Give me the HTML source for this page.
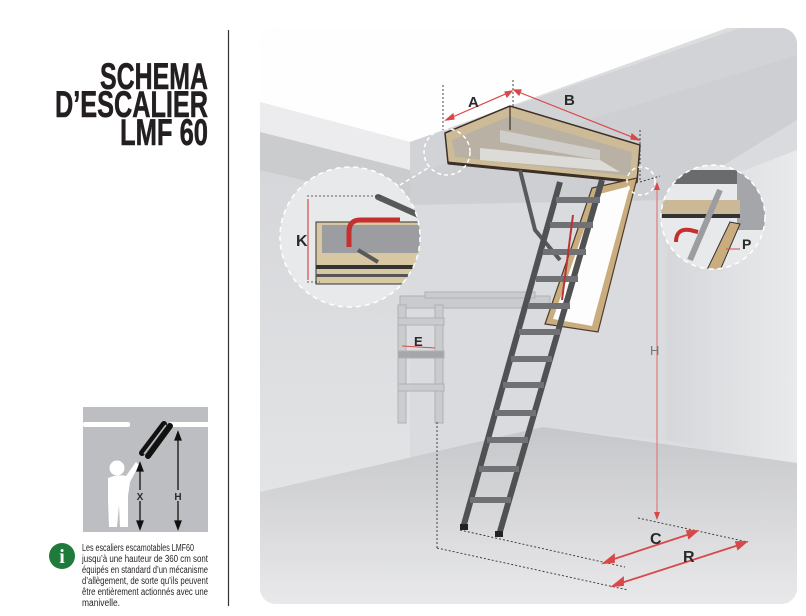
<!DOCTYPE html>
<html><head><meta charset="utf-8"><style>
html,body{margin:0;padding:0;background:#fff;width:806px;height:616px;overflow:hidden}
svg{display:block}
.t{font-family:"Liberation Sans Narrow","Liberation Sans",sans-serif;font-weight:bold;fill:#231f20;stroke:#231f20;stroke-width:0.6}
.s{font-family:"Liberation Sans Narrow","Liberation Sans",sans-serif;fill:#231f20;font-size:10px}
.lb{font-family:"Liberation Sans Narrow","Liberation Sans",sans-serif;font-weight:bold;fill:#2a2a2a}
</style></head><body>
<svg width="806" height="616" viewBox="0 0 806 616" xmlns="http://www.w3.org/2000/svg">
<defs>
<linearGradient id="lw" x1="0" y1="0" x2="0" y2="1"><stop offset="0" stop-color="#d3d4d7"/><stop offset="1" stop-color="#e3e4e6"/></linearGradient>
<linearGradient id="fl" x1="0" y1="0" x2="0" y2="1"><stop offset="0" stop-color="#c6c7ca"/><stop offset="1" stop-color="#e9e9eb"/></linearGradient>
<linearGradient id="rw" x1="0" y1="0" x2="1" y2="0"><stop offset="0" stop-color="#d6d7da"/><stop offset="1" stop-color="#e9eaec"/></linearGradient>
<clipPath id="pc"><rect x="260" y="28" width="537" height="576" rx="16"/></clipPath>
<clipPath id="kc"><circle cx="350" cy="237" r="70"/></clipPath>
<clipPath id="pcc"><circle cx="713" cy="217" r="52"/></clipPath>
</defs>
<text class="t" x="208" y="89" font-size="37" text-anchor="end" textLength="108" lengthAdjust="spacingAndGlyphs">SCHEMA</text>
<text class="t" x="208" y="117" font-size="37" text-anchor="end" textLength="153" lengthAdjust="spacingAndGlyphs">D’ESCALIER</text>
<text class="t" x="208" y="145" font-size="37" text-anchor="end" textLength="88" lengthAdjust="spacingAndGlyphs">LMF 60</text>
<line x1="228.5" y1="30" x2="228.5" y2="606" stroke="#333" stroke-width="1.2"/>
<rect x="83" y="407" width="125" height="125" fill="#bdbec1"/>
<rect x="83" y="422" width="47" height="5" rx="2" fill="#fff"/>
<rect x="170" y="422" width="38" height="5" fill="#fff"/>
<line x1="142" y1="453" x2="164" y2="424" stroke="#111" stroke-width="6" stroke-linecap="round"/>
<line x1="148" y1="456" x2="170" y2="426" stroke="#111" stroke-width="6" stroke-linecap="round"/>
<line x1="144" y1="454" x2="166" y2="425" stroke="#bdbec1" stroke-width="1.5"/>
<circle cx="117" cy="468" r="7.5" fill="#fff"/>
<path d="M108 478 Q118 474 126 476 L136 462 L139 465 L130 482 L128 496 L128 527 L120 527 L119 505 L117 527 L109 527 L108 500 Z" fill="#fff"/>
<g stroke="#111" stroke-width="1.3" fill="#111">
<line x1="140" y1="468" x2="140" y2="526"/><path d="M137 471 L140 463 L143 471Z"/><path d="M137 521 L140 529 L143 521Z"/>
<line x1="178" y1="437" x2="178" y2="526"/><path d="M175 440 L178 432 L181 440Z"/><path d="M175 521 L178 529 L181 521Z"/>
</g>
<rect x="136" y="490" width="8" height="11" fill="#bdbec1"/><rect x="174" y="490" width="8" height="11" fill="#bdbec1"/>
<text class="lb" x="140" y="500" style="font-size:10px" text-anchor="middle">X</text>
<text class="lb" x="178" y="500" style="font-size:10px" text-anchor="middle">H</text>
<circle cx="62" cy="556" r="13" fill="#1e7b3c"/>
<text x="62" y="563" font-family="Liberation Serif,serif" font-size="20" font-weight="bold" fill="#fff" text-anchor="middle">i</text>
<text class="s" x="82" y="551" textLength="112" lengthAdjust="spacingAndGlyphs">Les escaliers escamotables LMF60</text>
<text class="s" x="82" y="562" textLength="126" lengthAdjust="spacingAndGlyphs">jusqu’à une hauteur de 360 cm  sont</text>
<text class="s" x="82" y="573" textLength="126" lengthAdjust="spacingAndGlyphs">équipés en standard d’un mécanisme</text>
<text class="s" x="82" y="584" textLength="126" lengthAdjust="spacingAndGlyphs">d’allègement, de sorte qu’ils peuvent</text>
<text class="s" x="82" y="595" textLength="126" lengthAdjust="spacingAndGlyphs">être entièrement actionnés avec une</text>
<text class="s" x="82" y="606" textLength="38" lengthAdjust="spacingAndGlyphs">manivelle.</text>
<g clip-path="url(#pc)">
<rect x="260" y="28" width="537" height="576" fill="#dcdddf"/>
<polygon points="260,102 410,142 410,500 260,500" fill="url(#lw)"/>
<polygon points="410,142 740,28 797,28 797,470 667,440 543,427 410,470" fill="#dadbde"/>
<polygon points="667,200 797,150 797,470 667,440" fill="url(#rw)"/>
<polygon points="260,102 410,142 410,170 260,132" fill="#ececee"/>
<polygon points="260,132 410,170 410,205 260,170" fill="#cbccce"/>
<polygon points="410,142 740,28 797,28 797,55 410,175" fill="#d2d3d6"/>
<polygon points="410,175 797,55 797,120 667,200 410,205" fill="#c9cacd" opacity="0.7"/>
<polygon points="260,28 727,28 410,142 260,102" fill="#fefefe"/>
<polygon points="260,492 543,427 797,463 797,604 260,604" fill="url(#fl)"/>
<line x1="657" y1="183" x2="657" y2="519" stroke="#e27b7b" stroke-width="1.2"/>
<path d="M654 190 L657 182 L660 190Z M654 512 L657 520 L660 512Z" fill="#d94848"/>
<text x="650" y="355" font-family="Liberation Sans Narrow,Liberation Sans,sans-serif" font-size="13" fill="#777">H</text>
<g opacity="0.55" stroke="#8d8e91" fill="#bdbec1">
<rect x="400" y="296" width="150" height="12"/>
<rect x="425" y="292" width="110" height="6"/>
<rect x="398" y="305" width="8" height="118"/>
<rect x="435" y="305" width="8" height="118"/>
<rect x="398" y="318" width="46" height="7"/>
<rect x="398" y="351" width="46" height="7" fill="#7a7b7e"/>
<rect x="398" y="384" width="46" height="7"/>
</g>
<line x1="402" y1="346" x2="435" y2="348" stroke="#d94848" stroke-width="1"/>
<text class="lb" x="414" y="346" style="font-size:13px">E</text>
<g stroke="#333" stroke-width="0.9" stroke-dasharray="2,2" fill="none">
<line x1="437" y1="422" x2="437" y2="548"/>
<line x1="437" y1="548" x2="628" y2="590"/>
<line x1="460" y1="530" x2="625" y2="567"/>
<line x1="638" y1="518" x2="748" y2="542"/>
<line x1="443" y1="85" x2="443" y2="130"/>
<line x1="513" y1="80" x2="513" y2="110"/>
<line x1="640" y1="130" x2="640" y2="182"/>
<line x1="640" y1="182" x2="660" y2="176"/>
</g>
<g stroke="#d94848" stroke-width="1.8" fill="#d94848">
<line x1="608" y1="561" x2="693" y2="533"/><path d="M604 563 L614 555 L614 562Z"/><path d="M697 531 L687 531 L689 538Z"/>
<line x1="618" y1="584" x2="742" y2="544"/><path d="M613 586 L623 578 L623 585Z"/><path d="M746 542 L736 542 L738 549Z"/>
</g>
<text class="lb" x="650" y="544" style="font-size:16px">C</text>
<text class="lb" x="683" y="562" style="font-size:16px">R</text>
<polygon points="445,133 510,106 640,145 637,182 448,163" fill="#cdbb98" stroke="#3b2f26" stroke-width="1.5"/>
<polygon points="452,140 510,116 632,152 630,176 455,157" fill="#b9b2a4"/>
<polygon points="480,148 600,160 620,172 480,160" fill="#e2e2e2" opacity="0.85"/>
<polygon points="500,130 600,150 600,160 500,142" fill="#d5d5d5" opacity="0.8"/>
<line x1="510" y1="106" x2="510" y2="130" stroke="#3b2f26" stroke-width="1.2"/>
<line x1="448" y1="163" x2="637" y2="182" stroke="#3b2f26" stroke-width="3"/>
<polygon points="592,188 637,178 598,332 545,324" fill="#c9ad7e" stroke="#4a3b2d" stroke-width="1.2"/>
<polygon points="596,195 630,186 592,326 553,319" fill="#fdfdfd"/>
<path d="M520 170 L535 230 L560 260" stroke="#58595b" stroke-width="4" fill="none"/>
<g stroke="#505153" stroke-width="6" fill="none">
<line x1="463" y1="528" x2="560" y2="182"/>
<line x1="499" y1="535" x2="602" y2="180"/>
</g>
<g stroke="#707174" stroke-width="6">
<line x1="556" y1="200" x2="600" y2="200"/>
<line x1="550" y1="225" x2="593" y2="225"/>
<line x1="543" y1="252" x2="586" y2="252"/>
<line x1="536" y1="279" x2="578" y2="279"/>
<line x1="528" y1="306" x2="570" y2="306"/>
<line x1="519" y1="332" x2="560" y2="332"/>
<line x1="511" y1="359" x2="552" y2="359"/>
<line x1="503" y1="385" x2="544" y2="385"/>
<line x1="495" y1="413" x2="536" y2="413"/>
<line x1="487" y1="440" x2="528" y2="440"/>
<line x1="479" y1="469" x2="519" y2="469"/>
<line x1="470" y1="500" x2="511" y2="500"/>
</g>
<line x1="573" y1="215" x2="562" y2="300" stroke="#b33" stroke-width="2"/>
<rect x="460" y="524" width="8" height="6" fill="#222"/><rect x="495" y="531" width="8" height="6" fill="#222"/>
<g stroke="#d94848" stroke-width="1.2" fill="#d94848">
<line x1="448" y1="119" x2="510" y2="92"/><path d="M446 120 L453 114 L454 119Z M512 91 L505 92 L507 97Z"/>
<line x1="516" y1="91" x2="637" y2="139"/><path d="M514 90 L521 90 L519 95Z M639 140 L632 134 L631 139Z"/>
</g>
<text class="lb" x="468" y="107" style="font-size:15px">A</text>
<text class="lb" x="564" y="105" style="font-size:15px">B</text>
<circle cx="447" cy="152" r="23" fill="none" stroke="#fff" stroke-width="1.5" stroke-dasharray="4,3"/>
<circle cx="641" cy="181" r="14" fill="none" stroke="#fff" stroke-width="1.5" stroke-dasharray="4,3"/>
<line x1="400" y1="185" x2="428" y2="168" stroke="#fff" stroke-width="1.5" stroke-dasharray="4,3"/>
<circle cx="350" cy="237" r="70" fill="#e8e9eb"/>
<g clip-path="url(#kc)">
<rect x="316" y="222" width="110" height="62" fill="#d8c7a3" stroke="#333" stroke-width="1"/>
<rect x="322" y="225" width="104" height="28" fill="#9c9da0"/>
<rect x="316" y="265" width="110" height="4" fill="#333"/>
<rect x="316" y="274" width="110" height="3" fill="#555"/>
<line x1="378" y1="197" x2="425" y2="218" stroke="#58595b" stroke-width="6" stroke-linecap="round"/>
<path d="M349 247 L349 232 Q349 220 360 220 L400 220" stroke="#c62f2f" stroke-width="5" fill="none"/>
<line x1="358" y1="250" x2="378" y2="262" stroke="#58595b" stroke-width="4"/>
</g>
<circle cx="350" cy="237" r="70" fill="none" stroke="#fff" stroke-width="1.5" stroke-dasharray="5,4"/>
<g stroke="#333" stroke-width="0.8" stroke-dasharray="2,2"><line x1="307" y1="196" x2="383" y2="196"/><line x1="307" y1="282" x2="320" y2="282"/></g>
<line x1="308" y1="199" x2="308" y2="280" stroke="#d94848" stroke-width="1.2"/>
<text class="lb" x="296" y="246" style="font-size:16px">K</text>
<circle cx="713" cy="217" r="52" fill="#e8e9eb"/>
<g clip-path="url(#pcc)">
<rect x="660" y="170" width="110" height="14" fill="#6a6b6d"/>
<rect x="737" y="170" width="36" height="60" fill="#a5a6a9"/>
<rect x="660" y="200" width="80" height="14" fill="#cbb896"/>
<rect x="660" y="214" width="80" height="4" fill="#333"/>
<polygon points="730,222 740,224 718,275 706,272" fill="#c9ad7e" stroke="#333"/>
<line x1="720" y1="190" x2="690" y2="260" stroke="#9c9da0" stroke-width="6"/>
<path d="M676 242 Q676 228 690 230 L698 232" stroke="#c62f2f" stroke-width="4" fill="none"/>
</g>
<circle cx="713" cy="217" r="52" fill="none" stroke="#fff" stroke-width="1.5" stroke-dasharray="5,4"/>
<text class="lb" x="742" y="249" style="font-size:14px">P</text>
<line x1="726" y1="249" x2="740" y2="249" stroke="#d94848" stroke-width="1"/>
</g>
</svg>
</body></html>
